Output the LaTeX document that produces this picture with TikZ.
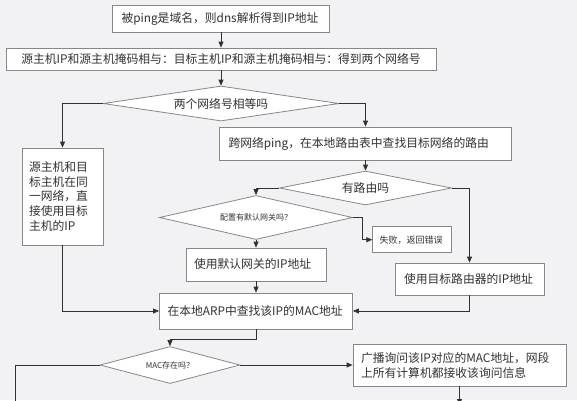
\documentclass[tikz,border=0pt]{standalone}
\usepackage{fontspec}
\setmainfont{Noto Sans CJK SC}
\usetikzlibrary{shapes.geometric,arrows.meta}
\definecolor{bgc}{RGB}{242,242,244}
\definecolor{edge}{RGB}{135,135,135}
\definecolor{ink}{RGB}{50,50,50}

\begin{document}
\begin{tikzpicture}[x=1pt,y=1pt]
\tikzstyle{every node}+=[inner sep=0pt, text=ink, font=\fontsize{11.8}{14.6}\selectfont]
\tikzstyle{box}=[draw=edge, fill=white, line width=0.8pt, inner xsep=8pt, align=left]
\tikzstyle{dec}=[diamond, draw=edge, fill=white, line width=0.8pt]
\tikzstyle{arr}=[draw=ink, line width=0.8pt, -{Triangle[length=6pt,width=5pt]}]
\tikzstyle{line}=[draw=ink, line width=0.8pt]
\useasboundingbox (0,0) rectangle (577,-400);
\fill [bgc] (0,0) rectangle (577,-400);
\node [box, inner xsep=9pt, text width=199pt, minimum height=27pt] (dns) at (221,-18.5) {被ping是域名，则dns解析得到IP地址};
\node [box, minimum width=430pt, minimum height=22pt] (net) at (221,-59) {源主机IP和源主机掩码相与：目标主机IP和源主机掩码相与：得到两个网络号};
\node [dec, minimum width=236pt, minimum height=35pt, shape aspect=6.7] (eq) at (221,-103.5) {两个网络号相等吗};
\node [box, inner xsep=7pt, text width=67pt, minimum height=97pt] (same) at (62.5,-196.5) {源主机和目\\标主机在同\\一网络，直\\接使用目标\\主机的IP};
\node [box, inner xsep=9pt, text width=274pt, minimum height=33pt] (cross) at (365.5,-143.5) {跨网络ping，在本地路由表中查找目标网络的路由};
\node [dec, minimum width=172pt, minimum height=34pt, shape aspect=5] (route) at (365.5,-188) {有路由吗};
\node [dec, minimum width=193pt, minimum height=44pt, shape aspect=4.4, font=\fontsize{8}{10}\selectfont] (gw) at (256,-217.5) {配置有默认网关吗？};
\node [box, inner xsep=7pt, text width=65pt, minimum height=26pt, font=\fontsize{9}{11}\selectfont] (fail) at (412.2,-239.7) {失败，返回错误};
\node [box, text width=124pt, minimum height=33pt] (gwip) at (256,-264.5) {使用默认网关的IP地址};
\node [box, inner xsep=9pt, text width=131pt, minimum height=32pt] (rtip) at (469.5,-279) {使用目标路由器的IP地址};
\node [box, text width=177pt, minimum height=36pt] (arp) at (256,-311) {在本地ARP中查找该IP的MAC地址};
\node [dec, minimum width=140pt, minimum height=37pt, shape aspect=3.8, font=\fontsize{8}{10}\selectfont] (mac) at (170,-365) {MAC存在吗？};
\node [box, text width=197pt, minimum height=42pt, font=\fontsize{11.8}{15}\selectfont] (bcast) at (459.5,-365) {广播询问该IP对应的MAC地址，网段\\上所有计算机都接收该询问信息};
\coordinate (endL) at (15,-403);
\coordinate (endR) at (459.5,-405);
\draw [arr] (dns) -- (net);
\draw [arr] (net) -- (eq);
\draw [arr] (eq.west) -| (same.north);
\draw [arr] (eq.east) -| (cross.north);
\draw [arr] (cross) -- (route);
\draw [arr] (route.west) -| (gw.north);
\draw [arr] (route.east) -| (rtip.north);
\draw [arr] (gw.east) -- ++(9,0) |- (fail.west);
\draw [arr] (gw) -- (gwip);
\draw [arr] (gwip) -- (arp);
\draw [arr] (same.south) |- (arp.west);
\draw [arr] (rtip.south) |- (arp.east);
\draw [arr] (arp.south) -- ++(0,-10) -| (mac.north);
\draw [arr] (mac.east) -- (bcast.west);
\draw [line] (mac.west) -| (endL);
\draw [arr] (bcast.south) -- (endR);
\end{tikzpicture}
\end{document}
